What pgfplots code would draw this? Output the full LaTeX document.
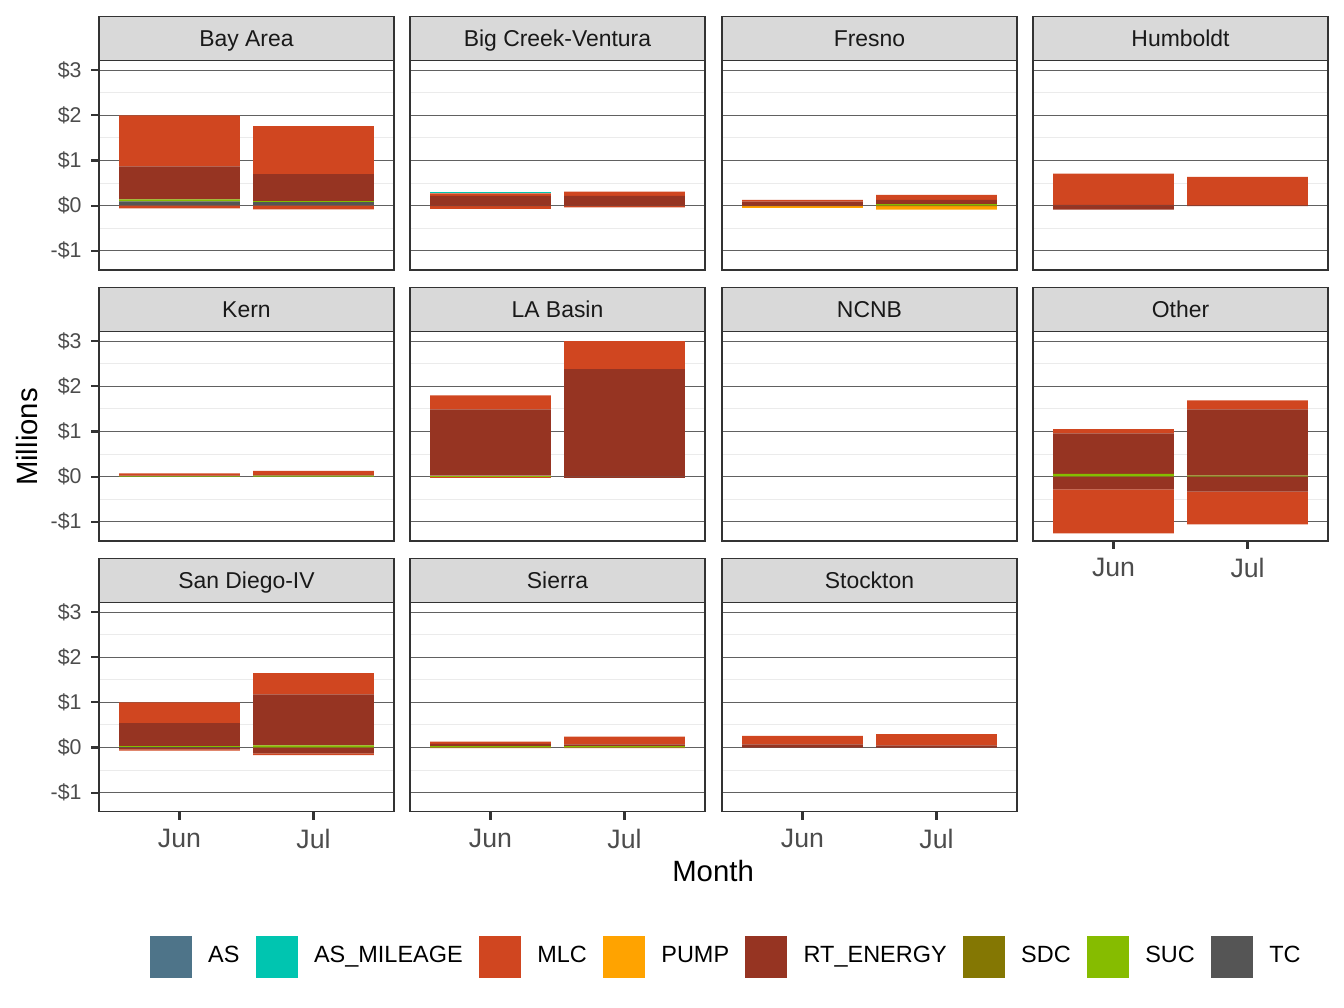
\documentclass[border=0pt]{standalone}
\usepackage{pgfplots}
\pgfplotsset{compat=1.18}
\usepackage{pgfplotstable}
\usepackage{fontspec}
\setmainfont{Liberation Sans}

\definecolor{cAS}{HTML}{4E7489}
\definecolor{cASM}{HTML}{00C5B0}
\definecolor{cMLC}{HTML}{D04620}
\definecolor{cPUMP}{HTML}{FFA300}
\definecolor{cRT}{HTML}{963422}
\definecolor{cSDC}{HTML}{847703}
\definecolor{cSUC}{HTML}{86BC00}
\definecolor{cTC}{HTML}{555555}

% values in millions; p* = positive parts, n* = negative parts (month 1 = Jun, 2 = Jul)
\pgfplotstableread{
x pTC  pSUC  pSDC pRT  pPUMP pMLC pASM pAS nTC nSUC nSDC nRT   nPUMP nMLC  nASM nAS
1 0.095 0.045 0   0.73 0     1.13 0    0   0   0    0    0     0     -0.06 0    0
2 0.08  0.02  0   0.60 0     1.06 0    0   0   0    0    0     0     -0.08 0    0
}\tBay
\pgfplotstableread{
x pTC  pSUC  pSDC pRT  pPUMP pMLC pASM pAS nTC nSUC nSDC nRT   nPUMP nMLC  nASM nAS
1 0    0     0    0.22 0     0.05 0.03 0   0   0    0    -0.01 0     -0.06 0    0
2 0    0     0    0.22 0     0.09 0    0   0   0    0    -0.01 0     -0.03 0    0
}\tBig
\pgfplotstableread{
x pTC  pSUC  pSDC pRT  pPUMP pMLC pASM pAS nTC nSUC nSDC nRT   nPUMP nMLC  nASM nAS
1 0    0     0    0.09 0     0.04 0    0   0   0    0    -0.01 -0.04 0     0    0
2 0    0.03  0    0.10 0     0.11 0    0   0   0    0    -0.01 -0.08 0     0    0
}\tFre
\pgfplotstableread{
x pTC  pSUC  pSDC pRT  pPUMP pMLC pASM pAS nTC nSUC nSDC nRT   nPUMP nMLC  nASM nAS
1 0    0     0    0.02 0     0.69 0    0   0   0    0    -0.09 0     0     0    0
2 0    0     0    0.01 0     0.63 0    0   0   0    0    -0.01 0     0     0    0
}\tHum
\pgfplotstableread{
x pTC  pSUC  pSDC pRT  pPUMP pMLC pASM pAS nTC nSUC nSDC nRT   nPUMP nMLC  nASM nAS
1 0    0.01  0    0.01 0     0.05 0    0   0   0    0    0     0     0     0    0
2 0    0.02  0    0.02 0     0.09 0    0   0   0    0    0     0     0     0    0
}\tKern
\pgfplotstableread{
x pTC  pSUC  pSDC pRT  pPUMP pMLC pASM pAS nTC nSUC nSDC nRT   nPUMP nMLC  nASM nAS
1 0    0.02  0    1.47 0     0.31 0    0   0   0    0    0     0     -0.02 0    0
2 0    0     0    2.38 0     0.62 0    0   0   0    0    -0.01 0     0     0    0
}\tLA
\pgfplotstableread{
x pTC  pSUC  pSDC pRT  pPUMP pMLC pASM pAS nTC nSUC nSDC nRT   nPUMP nMLC  nASM nAS
1 0    0     0    0    0     0    0    0   0   0    0    0     0     0     0    0
2 0    0     0    0    0     0    0    0   0   0    0    0     0     0     0    0
}\tNCNB
\pgfplotstableread{
x pTC  pSUC  pSDC pRT  pPUMP pMLC pASM pAS nTC nSUC nSDC nRT   nPUMP nMLC  nASM nAS
1 0    0.06  0    0.90 0     0.09 0    0   0   0    0    -0.28 0     -0.98 0    0
2 0    0.02  0    1.47 0     0.20 0    0   0   0    0    -0.33 0     -0.73 0    0
}\tOther
\pgfplotstableread{
x pTC  pSUC  pSDC pRT  pPUMP pMLC pASM pAS nTC nSUC nSDC nRT   nPUMP nMLC  nASM nAS
1 0.01 0.02  0    0.51 0     0.46 0    0   0   0    0    -0.04 0     -0.03 0    0
2 0    0.05  0    1.13 0     0.47 0    0   0   0    0    -0.13 0     -0.04 0    0
}\tSD
\pgfplotstableread{
x pTC  pSUC  pSDC pRT  pPUMP pMLC pASM pAS nTC nSUC nSDC nRT   nPUMP nMLC  nASM nAS
1 0    0.03  0    0.05 0     0.05 0    0   0   0    0    0     0     -0.01 0    0
2 0    0.03  0    0.04 0     0.17 0    0   0   0    0    0     0     -0.01 0    0
}\tSie
\pgfplotstableread{
x pTC  pSUC  pSDC pRT  pPUMP pMLC pASM pAS nTC nSUC nSDC nRT   nPUMP nMLC  nASM nAS
1 0    0     0    0.07 0     0.19 0    0   0   0    0    0     0     0     0    0
2 0    0     0    0.05 0     0.25 0    0   0   0    0    0     0     0     0    0
}\tSto

\pgfplotsset{
  base/.style={scale only axis, width=110.6pt, height=78.6pt, anchor=south west,
    xmin=0.4, xmax=2.6, ymin=-1.422, ymax=3.222, ybar stacked, bar width=0.9},
  panel/.style={base,
    axis line style={draw=black!80, line width=0.55pt},
    xtick={1,2}, xticklabels={},
    ytick={-1,0,1,2,3}, yticklabels={},
    minor ytick={-0.5,0.5,1.5,2.5}, minor tick length=0pt,
    ymajorgrids, yminorgrids,
    major grid style={black!62, line width=0.375pt},
    minor grid style={black!8, line width=0.375pt},
    tick align=outside, major tick length=3pt,
    xtick pos=bottom, ytick pos=left,
    xtick style={draw=none}, ytick style={draw=none},
    yticklabel style={font=\fontsize{8}{9}\selectfont, text=black!70},
    xticklabel style={font=\fontsize{10}{11}\selectfont, text=black!70},
    every axis title/.style={at={(0.5,1)}, anchor=south, fill=black!15,
      draw=black!80, line width=0.55pt, minimum width=110.6pt,
      minimum height=16.5pt, inner sep=0pt, text height=6.2pt, text depth=0pt,
      yshift=-0.4pt, font=\fontsize{8.6}{10}\selectfont, text=black!90}},
  yl/.style={yticklabels={-\$1,\$0,\$1,\$2,\$3}, ytick style={draw=black!80, line width=0.8pt}},
  xb/.style={xticklabels={Jun,Jul}, xtick style={draw=black!80, line width=0.8pt}},
  legsq/.style={legend image code/.code={\fill[##1, draw=none] (0pt,-7.875pt) rectangle (15.75pt,7.875pt);}},
}

\newcommand{\panel}[5]{%
  \begin{axis}[panel, at={(#1,#2)}, title={#3}, #5]
    \pgfplotsinvokeforeach{TC,SUC,SDC,RT,PUMP,MLC,ASM,AS}{%
      \addplot[fill=c##1, draw=none] table[x=x, y=p##1] {#4};}
  \end{axis}
  \begin{axis}[base, hide axis, at={(#1,#2)}]
    \pgfplotsinvokeforeach{TC,SUC,SDC,RT,PUMP,MLC,ASM,AS}{%
      \addplot[fill=c##1, draw=none] table[x=x, y=n##1] {#4};}
  \end{axis}}

\begin{document}
\begin{tikzpicture}
  \useasboundingbox (0,0) rectangle (504pt,378pt);

  \panel{37.125pt}{276.8pt}{Bay Area}{\tBay}{yl}
  \panel{153.75pt}{276.8pt}{Big Creek-Ventura}{\tBig}{}
  \panel{270.75pt}{276.8pt}{Fresno}{\tFre}{}
  \panel{387.4pt}{276.8pt}{Humboldt}{\tHum}{}

  \panel{37.125pt}{175.2pt}{Kern}{\tKern}{yl}
  \panel{153.75pt}{175.2pt}{LA Basin}{\tLA}{}
  \panel{270.75pt}{175.2pt}{NCNB}{\tNCNB}{}
  \panel{387.4pt}{175.2pt}{Other}{\tOther}{xb}

  \panel{37.125pt}{73.6pt}{San Diego-IV}{\tSD}{yl, xb}
  \panel{153.75pt}{73.6pt}{Sierra}{\tSie}{xb}
  \panel{270.75pt}{73.6pt}{Stockton}{\tSto}{xb}

  \node[rotate=90, font=\fontsize{11}{13}\selectfont] at (10.1pt,214.1pt) {Millions};
  \node[font=\fontsize{11}{13}\selectfont] at (267.4pt,51.2pt) {Month};

  \begin{axis}[hide axis, scale only axis, width=10pt, height=10pt,
      xmin=0, xmax=1, ymin=0, ymax=1, at={(272pt,19.3pt)}, anchor=center,
      legend columns=8,
      legend style={at={(0.5,0.5)}, anchor=center, draw=none, fill=none,
        inner sep=0pt, font=\fontsize{8.8}{10}\selectfont,
        nodes={inner sep=0pt},
        /tikz/every odd column/.append style={column sep=6.1pt},
        /tikz/every even column/.append style={column sep=6.1pt}}]
    \addlegendimage{legsq, fill=cAS}\addlegendentry{AS}
    \addlegendimage{legsq, fill=cASM}\addlegendentry{AS\_MILEAGE}
    \addlegendimage{legsq, fill=cMLC}\addlegendentry{MLC}
    \addlegendimage{legsq, fill=cPUMP}\addlegendentry{PUMP}
    \addlegendimage{legsq, fill=cRT}\addlegendentry{RT\_ENERGY}
    \addlegendimage{legsq, fill=cSDC}\addlegendentry{SDC}
    \addlegendimage{legsq, fill=cSUC}\addlegendentry{SUC}
    \addlegendimage{legsq, fill=cTC}\addlegendentry{TC}
  \end{axis}
\end{tikzpicture}
\end{document}
